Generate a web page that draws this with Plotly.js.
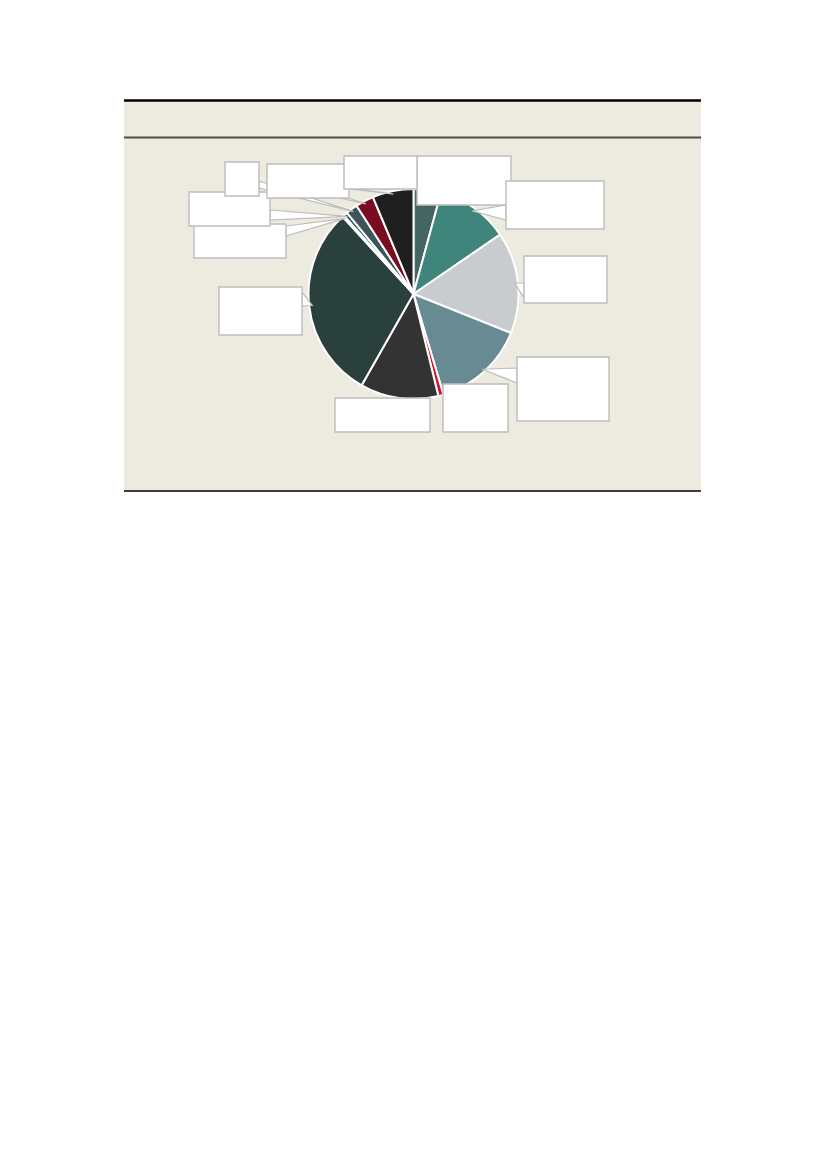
<!DOCTYPE html>
<html>
<head>
<meta charset="utf-8">
<script src="https://cdn.plot.ly/plotly-3.0.1.min.js"></script>
<style>html,body{margin:0;padding:0;background:#fff}</style>
</head>
<body>
<div id="chart" style="width:826px;height:1170px"></div>
<script>
// slices clockwise from 12 o'clock
const segments = ["S1", "S2", "S3", "S4", "S5", "S6", "S7", "S8", "S9", "S10", "S11", "S12"];
const shares = [4.2, 11.2, 15.6, 14.3, 0.8, 12.0, 29.9, 0.3, 0.6, 1.8, 2.8, 6.3];
const sliceColors = [
  "#436663", "#3f857b", "#c9cccf", "#678a93", "#d0142c", "#333333",
  "#2a403d", "#2a403d", "#1f4f48", "#3d5459", "#7a0c1f", "#1f1f1f",
];

// empty callout boxes, in page pixels: [x0, y0, x1, y1]
const calloutBoxes = [
  [417, 156, 511, 205],
  [506, 181, 604, 229],
  [524, 256, 607, 303],
  [517, 357, 609, 421],
  [443, 384, 508, 432],
  [335, 398, 430, 432],
  [219, 287, 302, 335],
  [194, 224, 286, 258],
  [189, 192, 270, 226],
  [225, 162, 259, 196],
  [267, 164, 349, 198],
  [344, 156, 417, 189],
];
// base of each pointer wedge on its box edge (null = hidden under the box)
const pointerBases = [
  null,
  [[506, 205], [506, 220]],
  [[524, 283], [524, 298]],
  [[517, 368], [517, 383]],
  null,
  null,
  [[302, 292], [302, 306]],
  [[286, 226], [286, 236]],
  [[270, 210], [270, 220]],
  [[259, 181], [259, 188]],
  [[340, 198], [348, 198]],
  [[350, 189], [358, 189]],
];

const W = 826, H = 1170;
const CX = 413.5, CY = 294, R = 105;
const px = (x) => x / W;
const py = (y) => 1 - y / H;

var shapes = [];
// panel background and rules
shapes.push({type: "rect", xref: "paper", yref: "paper", layer: "below",
  x0: px(124), x1: px(701), y0: py(100), y1: py(491),
  fillcolor: "#edeae0", line: {width: 0}});
shapes.push({type: "line", xref: "paper", yref: "paper",
  x0: px(124), x1: px(701), y0: py(100.5), y1: py(100.5),
  line: {color: "#000000", width: 2.5}});
shapes.push({type: "line", xref: "paper", yref: "paper",
  x0: px(124), x1: px(701), y0: py(137.5), y1: py(137.5),
  line: {color: "#4d4c47", width: 2}});
shapes.push({type: "line", xref: "paper", yref: "paper",
  x0: px(124), x1: px(701), y0: py(491), y1: py(491),
  line: {color: "#000000", width: 1.5}});

// pointer tips at the middle of each slice
var total = shares.reduce((a, b) => a + b, 0);
var cum = 0;
for (let i = 0; i < shares.length; i++) {
  let mid = ((cum + shares[i] / 2) / total) * 2 * Math.PI;
  cum += shares[i];
  let base = pointerBases[i];
  if (!base) continue;
  let tx = CX + R * 0.97 * Math.sin(mid);
  let ty = CY - R * 0.97 * Math.cos(mid);
  shapes.push({
    type: "path", xref: "paper", yref: "paper", layer: "above",
    path: "M " + px(base[0][0]) + "," + py(base[0][1]) +
      " L " + px(tx) + "," + py(ty) +
      " L " + px(base[1][0]) + "," + py(base[1][1]) + " Z",
    fillcolor: "#ffffff", line: {color: "#bdbdbd", width: 1.2},
  });
}
for (let i = 0; i < calloutBoxes.length; i++) {
  let b = calloutBoxes[i];
  shapes.push({type: "rect", xref: "paper", yref: "paper", layer: "above",
    x0: px(b[0]), x1: px(b[2]), y0: py(b[1]), y1: py(b[3]),
    fillcolor: "#ffffff", line: {color: "#bdbdbd", width: 1.4}});
}

var data = [{
  type: "pie",
  labels: segments,
  values: shares,
  sort: false,
  direction: "clockwise",
  rotation: 0,
  textinfo: "none",
  hoverinfo: "label+percent",
  marker: {colors: sliceColors, line: {color: "#ffffff", width: 2}},
  domain: {x: [px(CX - R), px(CX + R)], y: [py(CY + R), py(CY - R)]},
}];

var layout = {
  width: W,
  height: H,
  margin: {l: 0, r: 0, t: 0, b: 0},
  paper_bgcolor: "#ffffff",
  showlegend: false,
  shapes: shapes,
};

Plotly.newPlot("chart", data, layout, {displayModeBar: false, staticPlot: true});
</script>
</body>
</html>
